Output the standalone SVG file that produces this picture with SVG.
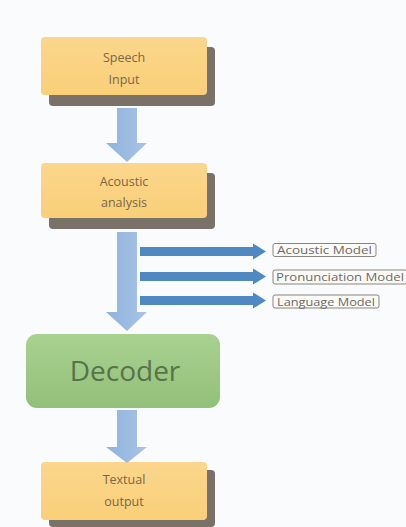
<svg xmlns="http://www.w3.org/2000/svg" width="406" height="527" viewBox="0 0 406 527">
<defs>
<linearGradient id="og" x1="0" y1="0" x2="0" y2="1"><stop offset="0" stop-color="#fbd68c"/><stop offset="1" stop-color="#f9cf78"/></linearGradient>
<linearGradient id="gg" x1="0" y1="0" x2="0" y2="1"><stop offset="0" stop-color="#a9d190"/><stop offset="1" stop-color="#92c07a"/></linearGradient>
<linearGradient id="bg" x1="0" y1="0" x2="1" y2="0"><stop offset="0" stop-color="#8fb2dc"/><stop offset="1" stop-color="#a9c4e6"/></linearGradient>
<style>
.sh{fill:#7a7269}
.ob{fill:url(#og)}
.t{font-family:"Open Sans","Liberation Sans",sans-serif;font-size:12.5px;fill:#7a6648;text-anchor:middle}
.va{fill:url(#bg)}
.ha{fill:#5088c2}
.lb{fill:#fbfaf6;stroke:#8a8580;stroke-width:1}
.lt{font-family:"Open Sans","Liberation Sans",sans-serif;font-size:10.5px;fill:#6e6a66}
</style>
</defs>
<rect width="406" height="527" fill="#f9fbfd"/>
<g id="speech-input">
<rect class="sh" x="49" y="47" width="166" height="59" rx="4"/>
<rect class="ob" x="41" y="37" width="166" height="58" rx="4"/>
<text class="t" x="124" y="62">Speech</text>
<text class="t" x="124" y="84">Input</text>
</g>
<g id="acoustic-analysis">
<rect class="sh" x="49" y="173" width="166" height="56" rx="4"/>
<rect class="ob" x="41" y="163" width="166" height="55" rx="4"/>
<text class="t" x="124" y="186">Acoustic</text>
<text class="t" x="124" y="207">analysis</text>
</g>
<g id="decoder">
<rect x="26" y="334" width="194" height="74" rx="11" fill="url(#gg)"/>
<text x="125" y="381" font-family="Open Sans, Liberation Sans, sans-serif" font-size="28" fill="#58724a" text-anchor="middle">Decoder</text>
</g>
<g id="textual-output">
<rect class="sh" x="49" y="470" width="166" height="57" rx="4"/>
<rect class="ob" x="41" y="462" width="166" height="58" rx="4"/>
<text class="t" x="124" y="484">Textual</text>
<text class="t" x="124" y="506">output</text>
</g>
<g id="acoustic-model">
<rect class="lb" x="273" y="243.5" width="103" height="13" rx="2"/>
<text class="lt" x="277" y="254" textLength="95" lengthAdjust="spacingAndGlyphs">Acoustic Model</text>
</g>
<g id="pronunciation-model">
<rect class="lb" x="273" y="270" width="134" height="14" rx="2"/>
<text class="lt" x="276" y="281" textLength="128" lengthAdjust="spacingAndGlyphs">Pronunciation Model</text>
</g>
<g id="language-model">
<rect class="lb" x="273" y="295" width="106" height="13" rx="2"/>
<text class="lt" x="277" y="305.5" textLength="98" lengthAdjust="spacingAndGlyphs">Language Model</text>
</g>
<g id="connectors">
<polygon class="va" points="117,108 137,108 137,143 147,143 127,162 106,143 117,143"/>
<polygon class="va" points="117,232 137,232 137,312 147,312 127,331 106,312 117,312"/>
<polygon class="va" points="117,410 137,410 137,447 147,447 127,463 106,447 117,447"/>
<polygon class="ha" points="140,247 253,247 253,243.5 266,251.5 253,259.5 253,256 140,256"/>
<polygon class="ha" points="140,272 253,272 253,268.5 266,276.5 253,284.5 253,281 140,281"/>
<polygon class="ha" points="140,296 253,296 253,292.5 266,300.5 253,308.5 253,305 140,305"/>
</g>
</svg>
